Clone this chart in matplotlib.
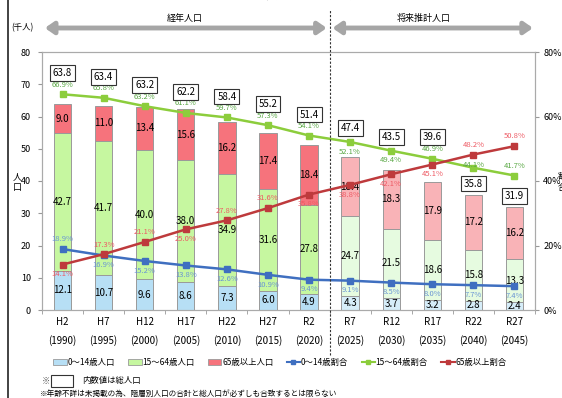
import matplotlib
matplotlib.use("Agg")
import matplotlib.pyplot as plt
from matplotlib.patches import Patch, Rectangle
from matplotlib.lines import Line2D
import numpy as np

plt.rcParams['font.family'] = ['Noto Sans CJK JP', 'DejaVu Sans']

# ---------------- data ----------------
categories = ["H2\n(1990)", "H7\n(1995)", "H12\n(2000)", "H17\n(2005)", "H22\n(2010)", "H27\n(2015)",
              "R2\n(2020)", "R7\n(2025)", "R12\n(2030)", "R17\n(2035)", "R22\n(2040)", "R27\n(2045)"]
pop_0_14 = [12.1, 10.7, 9.6, 8.6, 7.3, 6.0, 4.9, 4.3, 3.7, 3.2, 2.8, 2.4]
pop_15_64 = [42.7, 41.7, 40.0, 38.0, 34.9, 31.6, 27.8, 24.7, 21.5, 18.6, 15.8, 13.3]
pop_65 = [9.0, 11.0, 13.4, 15.6, 16.2, 17.4, 18.4, 18.4, 18.3, 17.9, 17.2, 16.2]
total = [63.8, 63.4, 63.2, 62.2, 58.4, 55.2, 51.4, 47.4, 43.5, 39.6, 35.8, 31.9]
pct_0_14 = [18.9, 16.9, 15.2, 13.8, 12.6, 10.9, 9.4, 9.1, 8.5, 8.0, 7.7, 7.4]
pct_15_64 = [66.9, 65.8, 63.2, 61.1, 59.7, 57.3, 54.1, 52.1, 49.4, 46.9, 44.1, 41.7]
pct_65 = [14.1, 17.3, 21.1, 25.0, 27.8, 31.6, 35.8, 38.8, 42.1, 45.1, 48.2, 50.8]
n_past = 7

# label placement styles (1 = above point, -1 = below point)
pos_0_14 = [1, -1, -1, -1, -1, -1, -1, -1, -1, -1, -1, -1]
pos_15_64 = [1, 1, 1, 1, 1, 1, 1, -1, -1, 1, 0.3, 1]
pos_65 = [-1, 1, 1, -1, 1, 1, -1, -1, -1, -1, 1, 1]
box_mode = ['line'] * 9 + ['line2', 'bar', 'bar']

# ---------------- colours ----------------
c_blue_past, c_blue_fut = '#b7dff5', '#d6edf9'
c_green_past, c_green_fut = '#c6f7a0', '#e6fbe0'
c_red_past, c_red_fut = '#f6737c', '#f9b3b7'
line_blue, line_green, line_red = '#3f6fc0', '#8ccd3c', '#be3a3c'
lab_blue, lab_green, lab_red = '#6a95d4', '#5aa845', '#ee5a64'

fig = plt.figure(figsize=(5.62, 3.98), dpi=100)
L, R, B, T = 42 / 562, 535 / 562, 1 - 310 / 398, 1 - 52 / 398
ax = fig.add_axes([L, B, R - L, T - B])
x = np.arange(len(categories))
w = 0.42

col0 = [c_blue_past if i < n_past else c_blue_fut for i in x]
col1 = [c_green_past if i < n_past else c_green_fut for i in x]
col2 = [c_red_past if i < n_past else c_red_fut for i in x]
b0 = np.array(pop_0_14)
b1 = b0 + np.array(pop_15_64)
ax.bar(x, pop_0_14, w, color=col0, edgecolor='#9a9a9a', lw=0.7, zorder=2)
ax.bar(x, pop_15_64, w, bottom=b0, color=col1, edgecolor='#9a9a9a', lw=0.7, zorder=2)
ax.bar(x, pop_65, w, bottom=b1, color=col2, edgecolor='#9a9a9a', lw=0.7, zorder=2)

for i in x:
    ax.text(i, pop_0_14[i] / 2, f"{pop_0_14[i]:.1f}", ha='center', va='center', fontsize=7, zorder=5)
    ax.text(i, b0[i] + pop_15_64[i] / 2, f"{pop_15_64[i]:.1f}", ha='center', va='center', fontsize=7, zorder=5)
    ax.text(i, b1[i] + pop_65[i] / 2, f"{pop_65[i]:.1f}", ha='center', va='center', fontsize=7, zorder=5)

ax.set_xlim(-0.5, len(categories) - 0.5)
ax.set_ylim(0, 80)
ax.set_yticks(range(0, 81, 10))
ax.set_xticks(x)
ax.set_xticklabels(categories, fontsize=7, linespacing=1.9)
ax.set_xticks(np.arange(-0.5, len(categories), 1), minor=True)
ax.tick_params(axis='x', which='major', length=0, pad=5)
ax.tick_params(axis='x', which='minor', length=3, color='#999999')
ax.tick_params(axis='y', labelsize=6.5, length=3, color='#999999', pad=5)
for s in ax.spines.values():
    s.set_color('#aaaaaa')
    s.set_linewidth(0.8)

ax2 = ax.twinx()
ax2.set_ylim(0, 80)
ax2.set_yticks([0, 20, 40, 60, 80])
ax2.set_yticklabels([f"{v}%" for v in [0, 20, 40, 60, 80]])
ax2.tick_params(axis='y', labelsize=6.5, length=3, color='#999999', pad=3)
for s in ax2.spines.values():
    s.set_color('#aaaaaa')
    s.set_linewidth(0.8)

for vals, col, lc, pos in [(pct_0_14, line_blue, lab_blue, pos_0_14),
                           (pct_15_64, line_green, lab_green, pos_15_64),
                           (pct_65, line_red, lab_red, pos_65)]:
    ax2.plot(x, vals, color=col, lw=1.8, marker='s', ms=4.5, zorder=4)
    for i in x:
        ax2.text(i, vals[i] + pos[i] * 3.0, f"{vals[i]:.1f}%", color=lc, fontsize=5.5,
                 ha='center', va='center', zorder=6)

# totals in boxes
for i in x:
    if box_mode[i] == 'line':
        yb = pct_15_64[i] + (6.5 if pos_15_64[i] > 0 else 4.3)
    elif box_mode[i] == 'line2':
        yb = pct_15_64[i] + 6.8
    else:
        yb = total[i] + 3.4
    ax2.text(i, yb, f"{total[i]:.1f}", ha='center', va='center', fontsize=7, zorder=7,
             bbox=dict(boxstyle='square,pad=0.3', fc='white', ec='#333333', lw=0.8))

# divider
ax2.axvline(6.5, ymin=-0.175, ymax=1.165, color='#333333', lw=0.8, ls=(0, (2, 1.5)),
            clip_on=False, zorder=8)

# arrows and period labels
yarr = 1 + (52 - 28) / 258
for xa, xb in [(-0.43, 6.43), (6.57, 11.45)]:
    ax2.annotate('', xy=(xa, yarr), xytext=(xb, yarr), xycoords=('data', 'axes fraction'),
                 textcoords=('data', 'axes fraction'),
                 arrowprops=dict(arrowstyle='<|-|>,head_length=0.5,head_width=0.35', color='#a6a6a6',
                                 lw=3.5, shrinkA=0, shrinkB=0))
ylab = 1 + (52 - 18) / 258
ax2.text(2.98, ylab, '経年人口', transform=ax2.get_xaxis_transform(), ha='center', va='center', fontsize=6.5)
ax2.text(8.8, ylab, '将来推計人口', transform=ax2.get_xaxis_transform(), ha='center', va='center', fontsize=6.5)

fig.text(22 / 562, 1 - 28 / 398, '(千人)', ha='center', va='center', fontsize=6)
fig.text(17 / 562, 1 - 182 / 398, '人\n口', ha='center', va='center', fontsize=6.5, linespacing=1.4)
fig.text(558 / 562, 1 - 182 / 398, '割\n合', ha='left', va='center', fontsize=6, linespacing=1.4)

# cut-off title
fig.text(278 / 562, 1 - 4 / 398, '人口構成の推移', ha='center', va='bottom', fontsize=18)

# left border line
fig.add_artist(Line2D([8 / 562, 8 / 562], [0, 1], transform=fig.transFigure, color='#222222', lw=1.2))

# legend
handles = [Patch(fc=c_blue_past, ec='#9a9a9a', lw=0.6), Patch(fc=c_green_past, ec='#9a9a9a', lw=0.6),
           Patch(fc=c_red_past, ec='#9a9a9a', lw=0.6),
           Line2D([], [], color=line_blue, marker='s', ms=3, lw=1.5),
           Line2D([], [], color=line_green, marker='s', ms=3, lw=1.5),
           Line2D([], [], color=line_red, marker='s', ms=3, lw=1.5)]
labels = ['0～14歳人口', '15～64歳人口', '65歳以上人口', '0～14歳割合', '15～64歳割合', '65歳以上割合']
fig.legend(handles, labels, loc='center', bbox_to_anchor=(280 / 562, 1 - 362 / 398), ncol=6,
           frameon=False, fontsize=6, handlelength=1.6, handleheight=0.7, handletextpad=0.1,
           columnspacing=1.6)

# footnotes
fig.text(42 / 562, 1 - 381 / 398, '※', ha='left', va='center', fontsize=6, color='#555555')
fig.add_artist(Rectangle((51 / 562, 1 - 387 / 398), 22 / 562, 12 / 398, transform=fig.transFigure,
                         fc='white', ec='#333333', lw=0.8))
fig.text(82 / 562, 1 - 381 / 398, '内数値は総人口', ha='left', va='center', fontsize=6)
fig.text(40 / 562, 1 - 394 / 398, '※年齢不詳は未掲載の為、階層別人口の合計と総人口が必ずしも合致するとは限らない',
         ha='left', va='center', fontsize=5.5)

fig.savefig('out.png', dpi=100)
